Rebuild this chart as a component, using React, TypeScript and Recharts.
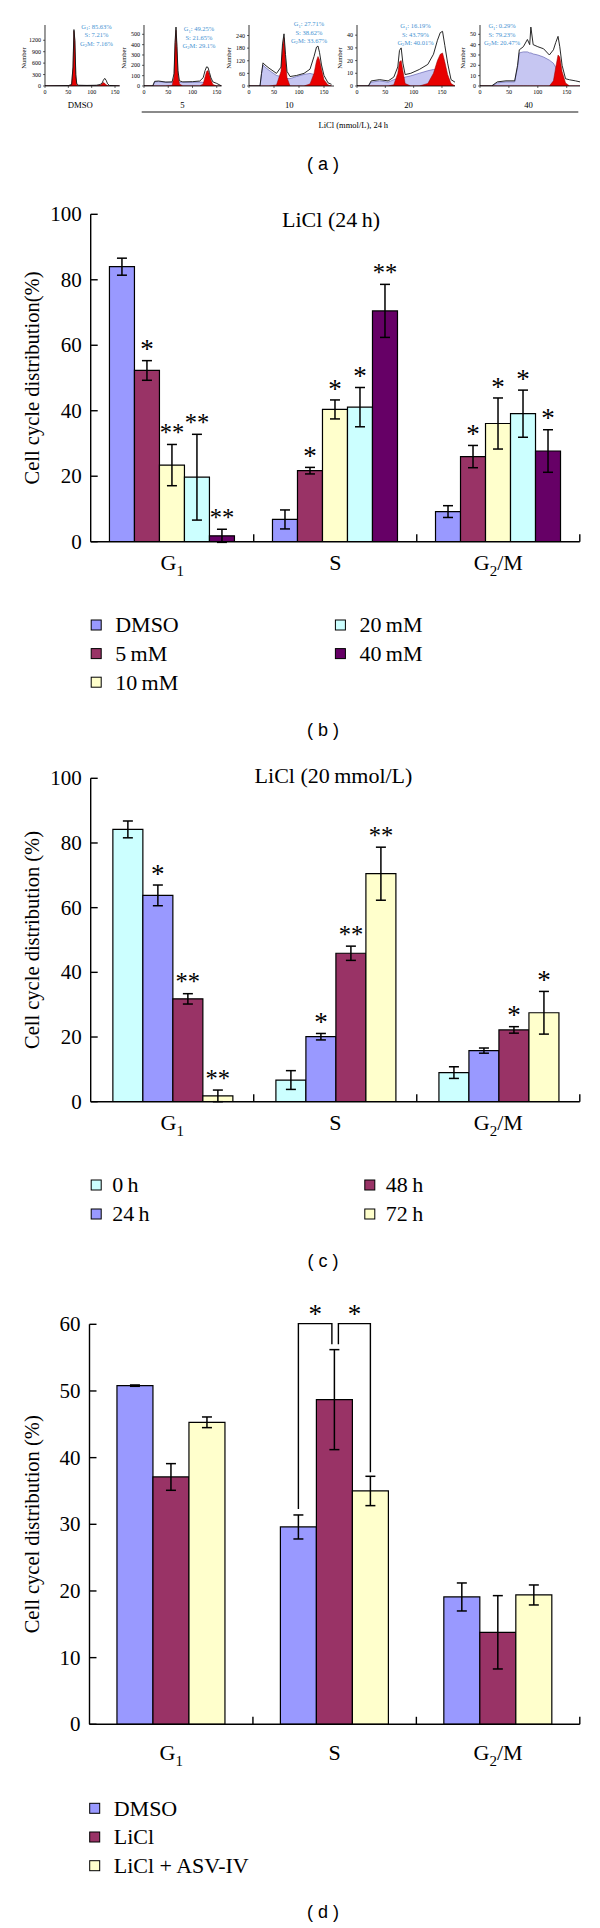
import React from 'react';
import { BarChart, Bar, XAxis, YAxis, ErrorBar, LabelList, ComposedChart, Area, Line } from 'recharts';

const SERIF = '"Liberation Serif", "Times New Roman", serif';
const SANS = '"Liberation Sans", Arial, sans-serif';

const PHASES = ['G1', 'S', 'G2/M'];

// ---------- (a) flow-cytometry histograms ----------
const histNames = ['DMSO', '5', '10', '20', '40'];
const histG1Text = ['85.63%', '49.25%', '27.71%', '16.19%', '0.29%'];
const histSText = ['7.21%', '21.65%', '38.62%', '43.79%', '79.23%'];
const histG2MText = ['7.16%', '29.1%', '33.67%', '40.01%', '20.47%'];
const histYTicks = [
  [0, 300, 600, 900, 1200],
  [0, 100, 200, 300, 400, 500],
  [0, 60, 120, 180, 240],
  [0, 10, 20, 30, 40],
  [0, 10, 20, 30, 40, 50],
];
const histYMax = [1600, 590, 290, 48, 59];
const histXMax = [160, 160, 170, 173, 173];
const histXTicks = [0, 50, 100, 150];

const h1Ch = [0, 50, 57, 60, 62, 64, 66, 68, 72, 90, 110, 118, 122, 125, 128, 131, 134, 138, 150, 160];
const h1Total = [0, 10, 40, 500, 1480, 1200, 300, 60, 20, 15, 20, 40, 70, 150, 200, 150, 60, 15, 5, 0];
const h1G1 = [0, 0, 30, 480, 1440, 1150, 260, 30, 0, 0, 0, 0, 0, 0, 0, 0, 0, 0, 0, 0];
const h1G2 = [0, 0, 0, 0, 0, 0, 0, 0, 0, 0, 0, 15, 60, 90, 70, 30, 10, 0, 0, 0];
const h1S = [0, 8, 10, 10, 10, 10, 10, 10, 12, 12, 12, 12, 10, 8, 6, 4, 2, 0, 0, 0];

const h2Ch = [0, 18, 22, 30, 45, 58, 62, 64, 66, 68, 70, 73, 80, 100, 115, 122, 126, 129, 132, 135, 138, 142, 150, 160];
const h2Total = [0, 0, 45, 48, 38, 40, 120, 420, 570, 380, 150, 50, 40, 42, 48, 80, 150, 185, 180, 130, 80, 40, 25, 0];
const h2G1 = [0, 0, 0, 0, 0, 5, 90, 380, 540, 350, 120, 20, 0, 0, 0, 0, 0, 0, 0, 0, 0, 0, 0, 0];
const h2G2 = [0, 0, 0, 0, 0, 0, 0, 0, 0, 0, 0, 0, 0, 0, 0, 20, 90, 140, 150, 110, 60, 15, 0, 0];
const h2S = [0, 0, 40, 42, 36, 35, 35, 35, 35, 35, 35, 35, 35, 36, 38, 35, 30, 25, 20, 15, 10, 5, 0, 0];

const h3Ch = [0, 22, 25, 28, 32, 40, 55, 64, 67, 70, 73, 76, 82, 95, 110, 122, 130, 135, 138, 141, 145, 150, 158, 165];
const h3Total = [0, 0, 60, 110, 100, 85, 60, 90, 200, 248, 150, 70, 45, 50, 60, 80, 140, 185, 190, 160, 100, 50, 15, 8];
const h3G1 = [0, 0, 0, 0, 0, 0, 5, 70, 180, 230, 130, 40, 0, 0, 0, 0, 0, 0, 0, 0, 0, 0, 0, 0];
const h3G2 = [0, 0, 0, 0, 0, 0, 0, 0, 0, 0, 0, 0, 0, 0, 0, 10, 60, 120, 140, 125, 80, 30, 5, 0];
const h3S = [0, 0, 55, 100, 90, 75, 50, 45, 42, 40, 38, 36, 35, 45, 55, 60, 55, 45, 35, 28, 20, 10, 3, 0];

const h4Ch = [0, 20, 25, 40, 55, 65, 72, 75, 78, 81, 85, 95, 110, 125, 135, 142, 147, 151, 155, 160, 166, 173];
const h4Total = [0, 0, 4, 5, 4, 7, 15, 28, 30, 18, 9, 10, 13, 17, 25, 36, 42, 43, 32, 18, 5, 3];
const h4G1 = [0, 0, 0, 0, 0, 1, 10, 19, 20, 12, 2, 0, 0, 0, 0, 0, 0, 0, 0, 0, 0, 0];
const h4G2 = [0, 0, 0, 0, 0, 0, 0, 0, 0, 0, 0, 0, 0, 2, 10, 20, 25, 26, 19, 9, 2, 0];
const h4S = [0, 0, 3, 4, 3, 5, 6, 6, 6, 6, 7, 8, 10, 12, 13, 12, 9, 6, 3, 1, 0, 0];

const h5Ch = [0, 20, 30, 45, 60, 65, 68, 75, 82, 86, 88, 92, 100, 110, 120, 127, 131, 135, 138, 142, 148, 155, 165, 173];
const h5Total = [0, 0, 4, 5, 5, 20, 35, 38, 45, 40, 57, 40, 38, 36, 30, 35, 42, 48, 38, 20, 7, 6, 5, 4];
const h5G1 = [0, 0, 0, 0, 0, 0, 0, 0, 0, 0, 0, 0, 0, 0, 0, 0, 0, 0, 0, 0, 0, 0, 0, 0];
const h5G2 = [0, 0, 0, 0, 0, 0, 0, 0, 0, 0, 0, 0, 0, 0, 0, 5, 18, 30, 28, 14, 3, 0, 0, 0];
const h5S = [0, 0, 3, 4, 4, 18, 32, 33, 33, 32, 32, 31, 30, 28, 25, 22, 18, 13, 9, 5, 1, 0, 0, 0];

const histChannels = [h1Ch, h2Ch, h3Ch, h4Ch, h5Ch];
const histTotal = [h1Total, h2Total, h3Total, h4Total, h5Total];
const histG1 = [h1G1, h2G1, h3G1, h4G1, h5G1];
const histG2 = [h1G2, h2G2, h3G2, h4G2, h5G2];
const histS = [h1S, h2S, h3S, h4S, h5S];

// ---------- (b) LiCl 24 h ----------
const bSeriesNames = ['DMSO', '5\u2009mM', '10\u2009mM', '20\u2009mM', '40\u2009mM'];
const bColors = ['#9999ff', '#993366', '#ffffcc', '#ccffff', '#660066'];
const bDMSO = [84.0, 6.8, 9.2];
const b5mM = [52.3, 21.7, 26.0];
const b10mM = [23.4, 40.4, 36.1];
const b20mM = [19.7, 41.1, 39.1];
const b40mM = [1.8, 70.5, 27.7];
const bDMSOErr = [2.6, 2.9, 1.8];
const b5mMErr = [3.0, 1.0, 3.4];
const b10mMErr = [6.3, 2.9, 7.8];
const b20mMErr = [13.1, 6.0, 7.2];
const b40mMErr = [2.0, 8.1, 6.5];
const bDMSOSig = ['', '', ''];
const b5mMSig = ['*', '*', '*'];
const b10mMSig = ['**', '*', '*'];
const b20mMSig = ['**', '*', '*'];
const b40mMSig = ['**', '**', '*'];

// ---------- (c) LiCl 20 mmol/L ----------
const cSeriesNames = ['0\u2009h', '24\u2009h', '48\u2009h', '72\u2009h'];
const cColors = ['#ccffff', '#9999ff', '#993366', '#ffffcc'];
const c0h = [84.2, 6.7, 9.0];
const c24h = [63.8, 20.1, 15.8];
const c48h = [31.8, 45.9, 22.2];
const c72h = [1.8, 70.5, 27.5];
const c0hErr = [2.6, 2.9, 1.8];
const c24hErr = [3.2, 1.0, 0.8];
const c48hErr = [1.6, 2.2, 1.0];
const c72hErr = [1.8, 8.2, 6.6];
const c0hSig = ['', '', ''];
const c24hSig = ['*', '*', ''];
const c48hSig = ['**', '**', '*'];
const c72hSig = ['**', '**', '*'];

// ---------- (d) LiCl vs LiCl + ASV-IV ----------
const dSeriesNames = ['DMSO', 'LiCl', 'LiCl + ASV-IV'];
const dColors = ['#9999ff', '#993366', '#ffffcc'];
const dDMSO = [50.8, 29.6, 19.1];
const dLiCl = [37.1, 48.7, 13.8];
const dASV = [45.3, 35.0, 19.4];
const dDMSOErr = [0.1, 1.8, 2.1];
const dLiClErr = [2.0, 7.5, 5.5];
const dASVErr = [0.8, 2.2, 1.5];
const dBracketLeftSig = ['', '*', ''];
const dBracketRightSig = ['', '*', ''];
const dBracketLevel = 60.1;
const dBracketInner = 57.0;
const dBracketStar = 62.1;

// ---------- helpers ----------
function geom(props: any) {
  const vb = props.viewBox || {};
  const pick = (a: any, b: any) => (typeof a === 'number' ? a : Number(b));
  return {
    x: pick(props.x, vb.x),
    y: pick(props.y, vb.y),
    w: pick(props.width, vb.width),
    h: pick(props.height, vb.height),
  };
}

function starContent(errs: number[], sigs: string[]) {
  return (props: any) => {
    const idx = props.index;
    const sig = sigs[idx];
    if (!sig) return null;
    const { x, y, w, h } = geom(props);
    const v = Number(props.value);
    if (!v) return null;
    const ppu = h / v;
    const errTop = y - errs[idx] * ppu;
    const fs = sig.length > 1 ? 24.5 : 27;
    return (
      <text x={x + w / 2} y={errTop - 15 + fs * 0.47} textAnchor="middle" fontFamily={SERIF} fontSize={fs} fill="#000">
        {sig}
      </text>
    );
  };
}

function bracketContent(errs: number[], sigs: string[], side: 'left' | 'right') {
  return (props: any) => {
    const idx = props.index;
    const sig = sigs[idx];
    if (!sig) return null;
    const { x, y, w, h } = geom(props);
    const v = Number(props.value);
    if (!v) return null;
    const ppu = h / v;
    const zero = y + h;
    const cx = x + w / 2;
    const errTop = y - errs[idx] * ppu;
    const topY = zero - dBracketLevel * ppu;
    const innerY = zero - dBracketInner * ppu;
    const starY = zero - dBracketStar * ppu;
    if (side === 'left') {
      const ex = cx + w - 2.5;
      return (
        <g>
          <path d={`M${cx},${errTop - 6}V${topY}H${ex}V${innerY}`} fill="none" stroke="#000" strokeWidth={1.4} />
          <text x={(cx + ex) / 2} y={starY + 12.5} textAnchor="middle" fontFamily={SERIF} fontSize={27} fill="#000">{sig}</text>
        </g>
      );
    }
    const sx = cx - w + 4;
    return (
      <g>
        <path d={`M${sx},${innerY}V${topY}H${cx}V${errTop - 4}`} fill="none" stroke="#000" strokeWidth={1.4} />
        <text x={(cx + sx) / 2} y={starY + 12.5} textAnchor="middle" fontFamily={SERIF} fontSize={27} fill="#000">{sig}</text>
      </g>
    );
  };
}

function PhaseLabel({ x, y, value, size }: any) {
  const sub = size * 0.68;
  if (value === 'G1') {
    return (
      <text x={x} y={y} textAnchor="middle" fontFamily={SERIF} fontSize={size} fill="#000">
        <tspan>G</tspan>
        <tspan fontSize={sub} dy={6}>1</tspan>
      </text>
    );
  }
  if (value === 'G2/M') {
    return (
      <text x={x} y={y} textAnchor="middle" fontFamily={SERIF} fontSize={size} fill="#000">
        <tspan>G</tspan>
        <tspan fontSize={sub} dy={6}>2</tspan>
        <tspan dy={-6}>/M</tspan>
      </text>
    );
  }
  return (
    <text x={x} y={y} textAnchor="middle" fontFamily={SERIF} fontSize={size} fill="#000">{value}</text>
  );
}

function makeXTick(halfBand: number, labelDy: number) {
  return (props: any) => {
    const { x, y, payload } = props;
    return (
      <g>
        <line x1={x + halfBand} x2={x + halfBand} y1={y} y2={y - 7.5} stroke="#000" strokeWidth={1.4} />
        <PhaseLabel x={x} y={y + labelDy} value={payload.value} size={22} />
      </g>
    );
  };
}

function makeYTick() {
  return (props: any) => {
    const { x, y, payload } = props;
    return (
      <g>
        <line x1={x} x2={x + 7} y1={y} y2={y} stroke="#000" strokeWidth={1.4} />
        <text x={x - 9} y={y + 7} textAnchor="end" fontFamily={SERIF} fontSize={21} fill="#000">{payload.value}</text>
      </g>
    );
  };
}

type SeriesDef = { name: string; color: string; values: number[]; errs: number[]; sigs?: string[]; bracket?: { sigs: string[]; side: 'left' | 'right' } };

function buildRows(series: SeriesDef[]) {
  return PHASES.map((p, i) => {
    const row: any = { phase: p };
    series.forEach((s, k) => {
      row[`v${k}`] = s.values[i];
      row[`e${k}`] = s.errs[i];
    });
    return row;
  });
}

function PanelChart({ top, height, series, marginTop, xAxisHeight, marginBottom, yAxisWidth, yMax, yTicks, gap, labelDy }: any) {
  const rightMargin = 20.2;
  const plotW = 600 - yAxisWidth - rightMargin;
  const rows = buildRows(series);
  return (
    <div style={{ position: 'absolute', left: 0, top }}>
      <BarChart width={600} height={height} data={rows} margin={{ top: marginTop, right: rightMargin, bottom: marginBottom, left: 0 }} barCategoryGap={gap} barGap={0}>
        <XAxis dataKey="phase" height={xAxisHeight} interval={0} tickLine={false} tickSize={0} tickMargin={0} axisLine={{ stroke: '#000', strokeWidth: 1.4 }} tick={makeXTick(plotW / 6, labelDy)} />
        <YAxis type="number" domain={[0, yMax]} ticks={yTicks} interval={0} width={yAxisWidth} tickLine={false} tickSize={0} tickMargin={0} axisLine={{ stroke: '#000', strokeWidth: 1.4 }} tick={makeYTick()} allowDataOverflow />
        {series.map((s: SeriesDef, k: number) => (
          <Bar key={k} dataKey={`v${k}`} name={s.name} fill={s.color} stroke="#000" strokeWidth={1.2} isAnimationActive={false}>
            <ErrorBar dataKey={`e${k}`} direction="y" width={5} stroke="#000" strokeWidth={1.5} />
            {s.sigs ? <LabelList dataKey={`v${k}`} content={starContent(s.errs, s.sigs)} /> : null}
            {s.bracket ? <LabelList dataKey={`v${k}`} content={bracketContent(s.errs, s.bracket.sigs, s.bracket.side)} /> : null}
          </Bar>
        ))}
      </BarChart>
    </div>
  );
}

const HIST_BASE = 86;
const HIST_TOP = 25;
const histAxisX = [45, 144, 248.5, 356.7, 480];
const histXEnd = [119.7, 221.6, 333.5, 454.7, 580];

function Histogram({ i }: { i: number }) {
  const left = histAxisX[i] - 30;
  const width = histXEnd[i] - left + 2;
  const rows = histChannels[i].map((c, k) => ({ ch: c, t: histTotal[i][k], s: histS[i][k], g1: histG1[i][k], g2: histG2[i][k] }));
  const chartTop = 15;
  const height = 90;
  const xAxisH = 12;
  const mb = chartTop + height - HIST_BASE - xAxisH;
  const tickStyle = { fontSize: 6, fontFamily: SERIF, fill: '#000' };
  return (
    <div style={{ position: 'absolute', left, top: chartTop }}>
      <ComposedChart width={width} height={height} data={rows} margin={{ top: HIST_TOP - chartTop, right: 2, bottom: mb, left: 0 }}>
        <XAxis dataKey="ch" type="number" domain={[0, histXMax[i]]} ticks={histXTicks} interval={0} height={xAxisH} tickSize={2} tickMargin={2} tick={tickStyle} axisLine={{ stroke: '#000', strokeWidth: 0.8 }} tickLine={{ stroke: '#000', strokeWidth: 0.6 }} allowDataOverflow />
        <YAxis type="number" domain={[0, histYMax[i]]} ticks={histYTicks[i]} interval={0} width={30} tickSize={2} tickMargin={2} tick={tickStyle} axisLine={{ stroke: '#000', strokeWidth: 0.8 }} tickLine={{ stroke: '#000', strokeWidth: 0.6 }} allowDataOverflow />
        <Area type="linear" dataKey="s" fill="#c6c6f2" fillOpacity={1} stroke="#5050a8" strokeWidth={0.6} isAnimationActive={false} dot={false} activeDot={false} />
        <Area type="linear" dataKey="g1" fill="#e80000" fillOpacity={1} stroke="#900000" strokeWidth={0.5} isAnimationActive={false} dot={false} activeDot={false} />
        <Area type="linear" dataKey="g2" fill="#e80000" fillOpacity={1} stroke="#900000" strokeWidth={0.5} isAnimationActive={false} dot={false} activeDot={false} />
        <Line type="linear" dataKey="t" stroke="#111" strokeWidth={0.9} dot={false} activeDot={false} isAnimationActive={false} />
      </ComposedChart>
    </div>
  );
}

const histStatPos = [[96.5, 26.7], [199, 29], [309, 24], [415.5, 26], [502, 26]];
const histNumberX = [24, 124, 229, 340, 462.7];
const histNamePos = [80.2, 182.5, 289.3, 408.5, 528.5];

function Legend({ names, colors, rows, colX, textDx, rowY, rowStep }: any) {
  return (
    <g>
      {names.map((n: string, k: number) => {
        const col = Math.floor(k / rows);
        const r = k % rows;
        const y = rowY + r * rowStep;
        const x = colX[col];
        return (
          <g key={k}>
            <rect x={x + 0.5} y={y - 5} width={10} height={10} fill={colors[k]} stroke="#000" strokeWidth={1} />
            <text x={x + textDx} y={y + 7.3} fontFamily={SERIF} fontSize={22} fill="#000">{n}</text>
          </g>
        );
      })}
    </g>
  );
}

export default function App() {
  const bSeries: SeriesDef[] = [
    { name: bSeriesNames[0], color: bColors[0], values: bDMSO, errs: bDMSOErr, sigs: bDMSOSig },
    { name: bSeriesNames[1], color: bColors[1], values: b5mM, errs: b5mMErr, sigs: b5mMSig },
    { name: bSeriesNames[2], color: bColors[2], values: b10mM, errs: b10mMErr, sigs: b10mMSig },
    { name: bSeriesNames[3], color: bColors[3], values: b20mM, errs: b20mMErr, sigs: b20mMSig },
    { name: bSeriesNames[4], color: bColors[4], values: b40mM, errs: b40mMErr, sigs: b40mMSig },
  ];
  const cSeries: SeriesDef[] = [
    { name: cSeriesNames[0], color: cColors[0], values: c0h, errs: c0hErr, sigs: c0hSig },
    { name: cSeriesNames[1], color: cColors[1], values: c24h, errs: c24hErr, sigs: c24hSig },
    { name: cSeriesNames[2], color: cColors[2], values: c48h, errs: c48hErr, sigs: c48hSig },
    { name: cSeriesNames[3], color: cColors[3], values: c72h, errs: c72hErr, sigs: c72hSig },
  ];
  const dSeries: SeriesDef[] = [
    { name: dSeriesNames[0], color: dColors[0], values: dDMSO, errs: dDMSOErr, bracket: { sigs: dBracketLeftSig, side: 'left' } },
    { name: dSeriesNames[1], color: dColors[1], values: dLiCl, errs: dLiClErr },
    { name: dSeriesNames[2], color: dColors[2], values: dASV, errs: dASVErr, bracket: { sigs: dBracketRightSig, side: 'right' } },
  ];

  return (
    <div style={{ position: 'absolute', left: 0, top: 0, width: 600, height: 1928, background: '#fff', overflow: 'hidden' }}>
      {histNames.map((_, i) => (
        <Histogram key={i} i={i} />
      ))}

      <PanelChart top={180} height={400} series={bSeries} marginTop={34.3} xAxisHeight={30} marginBottom={8.3} yAxisWidth={90.7} yMax={100} yTicks={[0, 20, 40, 60, 80, 100]} gap="11.5%" labelDy={28.3} />
      <PanelChart top={740} height={400} series={cSeries} marginTop={38.3} xAxisHeight={30} marginBottom={8.3} yAxisWidth={90.7} yMax={100} yTicks={[0, 20, 40, 60, 80, 100]} gap="13.6%" labelDy={28.3} />
      <PanelChart top={1290} height={500} series={dSeries} marginTop={34.3} xAxisHeight={50} marginBottom={15.7} yAxisWidth={89.5} yMax={60} yTicks={[0, 10, 20, 30, 40, 50, 60]} gap="16.8%" labelDy={35.7} />

      <svg width={600} height={1928} style={{ position: 'absolute', left: 0, top: 0, pointerEvents: 'none' }}>
        {/* (a) annotations */}
        {histNames.map((n, i) => {
          const [sx, sy] = histStatPos[i];
          const fs = 6.5;
          const col = '#3f92d2';
          return (
            <g key={i}>
              <text x={sx} y={sy + 2.2} textAnchor="middle" fontFamily={SERIF} fontSize={fs} fill={col}>
                <tspan>G</tspan><tspan fontSize={4.6} dy={1.5}>1</tspan><tspan dy={-1.5}>{': ' + histG1Text[i]}</tspan>
              </text>
              <text x={sx} y={sy + 2.2 + 8.3} textAnchor="middle" fontFamily={SERIF} fontSize={fs} fill={col}>{'S: ' + histSText[i]}</text>
              <text x={sx} y={sy + 2.2 + 16.6} textAnchor="middle" fontFamily={SERIF} fontSize={fs} fill={col}>
                <tspan>G</tspan><tspan fontSize={4.6} dy={1.5}>2</tspan><tspan dy={-1.5}>{'M: ' + histG2MText[i]}</tspan>
              </text>
              <text transform={`translate(${histNumberX[i] + 2.2},58) rotate(-90)`} textAnchor="middle" fontFamily={SERIF} fontSize={6.5} fill="#000">Number</text>
              <text x={histNamePos[i]} y={108} textAnchor="middle" fontFamily={SERIF} fontSize={8.7} fill="#000">{n}</text>
            </g>
          );
        })}
        <line x1={141.7} x2={578.3} y1={112} y2={112} stroke="#8a8a8a" strokeWidth={2} />
        <text x={318.5} y={128} fontFamily={SERIF} fontSize={8.5} fill="#000">LiCl (mmol/L), 24{'\u2009'}h</text>
        <text x={323} y={170} textAnchor="middle" fontFamily={SANS} fontSize={18} fill="#000">( a )</text>

        {/* (b) */}
        <text x={331} y={226.5} textAnchor="middle" fontFamily={SERIF} fontSize={22} fill="#000">LiCl (24{'\u2009'}h)</text>
        <text transform="translate(38.5,378) rotate(-90)" textAnchor="middle" fontFamily={SERIF} fontSize={20.5} fill="#000">Cell cycle distribution(%)</text>
        <Legend names={bSeriesNames} colors={bColors} rows={3} colX={[90.7, 334.9]} textDx={24.5} rowY={625} rowStep={28.6} />
        <text x={323} y={736} textAnchor="middle" fontFamily={SANS} fontSize={18} fill="#000">( b )</text>

        {/* (c) */}
        <text x={333.5} y={783.3} textAnchor="middle" fontFamily={SERIF} fontSize={22} fill="#000">LiCl (20{'\u2009'}mmol/L)</text>
        <text transform="translate(38.5,940) rotate(-90)" textAnchor="middle" fontFamily={SERIF} fontSize={20.5} fill="#000">Cell cycle distribution (%)</text>
        <Legend names={cSeriesNames} colors={cColors} rows={2} colX={[90.7, 364.3]} textDx={21.5} rowY={1185} rowStep={29} />
        <text x={323} y={1267} textAnchor="middle" fontFamily={SANS} fontSize={18} fill="#000">( c )</text>

        {/* (d) */}
        <text transform="translate(38.5,1524.3) rotate(-90)" textAnchor="middle" fontFamily={SERIF} fontSize={20.5} fill="#000">Cell cycel distribution (%)</text>
        <Legend names={dSeriesNames} colors={dColors} rows={3} colX={[89.2]} textDx={24.5} rowY={1808.3} rowStep={28.7} />
        <text x={323} y={1918} textAnchor="middle" fontFamily={SANS} fontSize={18} fill="#000">( d )</text>
      </svg>
    </div>
  );
}
